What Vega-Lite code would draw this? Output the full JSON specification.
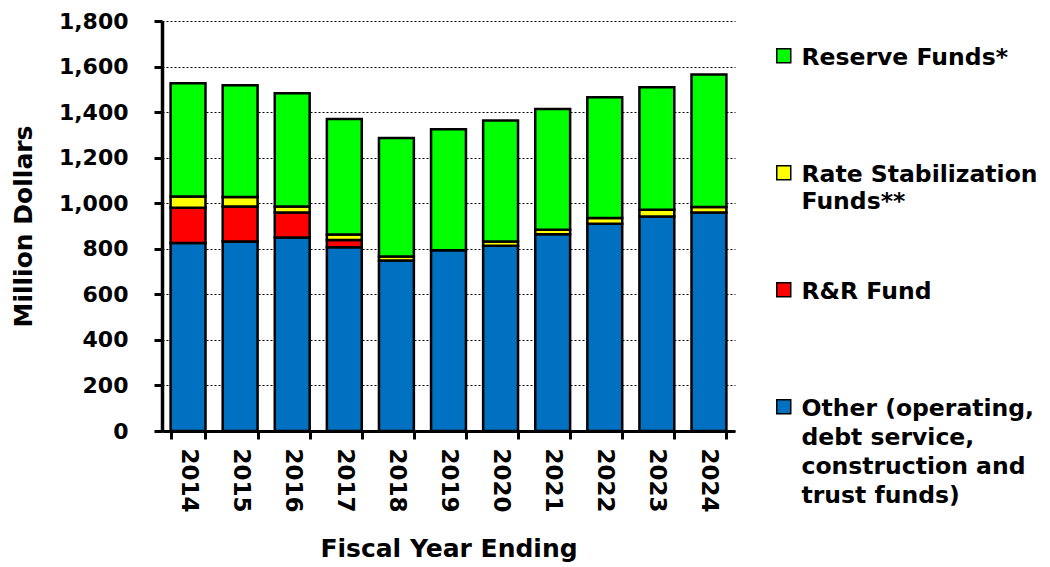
{
  "$schema": "https://vega.github.io/schema/vega-lite/v6.json",
  "autosize": "none",
  "width": 573,
  "height": 410,
  "padding": {"left": 162, "top": 21, "right": 315, "bottom": 136},
  "background": "white",
  "data": {
    "values": [
      {"year": "2014", "category": "Other", "value": 825},
      {"year": "2014", "category": "R&R", "value": 155},
      {"year": "2014", "category": "Rate", "value": 49},
      {"year": "2014", "category": "Reserve", "value": 498},
      {"year": "2015", "category": "Other", "value": 832},
      {"year": "2015", "category": "R&R", "value": 154},
      {"year": "2015", "category": "Rate", "value": 41},
      {"year": "2015", "category": "Reserve", "value": 491},
      {"year": "2016", "category": "Other", "value": 850},
      {"year": "2016", "category": "R&R", "value": 109},
      {"year": "2016", "category": "Rate", "value": 27},
      {"year": "2016", "category": "Reserve", "value": 497},
      {"year": "2017", "category": "Other", "value": 807},
      {"year": "2017", "category": "R&R", "value": 32},
      {"year": "2017", "category": "Rate", "value": 24},
      {"year": "2017", "category": "Reserve", "value": 507},
      {"year": "2018", "category": "Other", "value": 749},
      {"year": "2018", "category": "Rate", "value": 17},
      {"year": "2018", "category": "Reserve", "value": 520},
      {"year": "2019", "category": "Other", "value": 793},
      {"year": "2019", "category": "Reserve", "value": 532},
      {"year": "2020", "category": "Other", "value": 813},
      {"year": "2020", "category": "Rate", "value": 19},
      {"year": "2020", "category": "Reserve", "value": 531},
      {"year": "2021", "category": "Other", "value": 864},
      {"year": "2021", "category": "Rate", "value": 19},
      {"year": "2021", "category": "Reserve", "value": 531},
      {"year": "2022", "category": "Other", "value": 910},
      {"year": "2022", "category": "Rate", "value": 25},
      {"year": "2022", "category": "Reserve", "value": 530},
      {"year": "2023", "category": "Other", "value": 942},
      {"year": "2023", "category": "Rate", "value": 29},
      {"year": "2023", "category": "Reserve", "value": 538},
      {"year": "2024", "category": "Other", "value": 959},
      {"year": "2024", "category": "Rate", "value": 24},
      {"year": "2024", "category": "Reserve", "value": 582}
    ]
  },
  "transform": [
    {"calculate": "indexof(['Other','R&R','Rate','Reserve'], datum.category)", "as": "stackIndex"}
  ],
  "mark": {"type": "bar", "stroke": "black", "strokeWidth": 2.5},
  "encoding": {
    "x": {
      "field": "year",
      "type": "ordinal",
      "scale": {"paddingInner": 0.33, "paddingOuter": 0.165},
      "axis": {
        "title": "Fiscal Year Ending",
        "titleFont": "DejaVu Sans",
        "titleFontSize": 25,
        "titleFontWeight": "bold",
        "titleColor": "black",
        "titlePadding": 24,
        "labelAngle": 90,
        "labelFont": "DejaVu Sans",
        "labelFontSize": 23,
        "labelFontWeight": "bold",
        "labelColor": "black",
        "labelPadding": 9,
        "domainColor": "black",
        "domainWidth": 3,
        "tickColor": "black",
        "tickWidth": 3,
        "tickSize": 8,
        "tickBand": "extent"
      }
    },
    "y": {
      "field": "value",
      "type": "quantitative",
      "stack": "zero",
      "scale": {"domain": [0, 1800], "nice": false},
      "axis": {
        "title": "Million Dollars",
        "titleFont": "DejaVu Sans",
        "titleFontSize": 25,
        "titleFontWeight": "bold",
        "titleColor": "black",
        "titlePadding": 22,
        "values": [0, 200, 400, 600, 800, 1000, 1200, 1400, 1600, 1800],
        "format": ",.0f",
        "labelFont": "DejaVu Sans",
        "labelFontSize": 22,
        "labelFontWeight": "bold",
        "labelColor": "black",
        "labelPadding": 26,
        "domainColor": "black",
        "domainWidth": 3.5,
        "tickColor": "black",
        "tickWidth": 3,
        "tickSize": 8,
        "grid": true,
        "gridColor": "black",
        "gridWidth": 1,
        "gridDash": [2, 2]
      }
    },
    "color": {
      "field": "category",
      "type": "nominal",
      "scale": {
        "domain": ["Reserve", "Rate", "R&R", "Other"],
        "range": ["#00FF00", "#FFFF00", "#FF0000", "#0070C0"]
      },
      "legend": {
        "orient": "none",
        "legendX": 610,
        "legendY": 13,
        "title": null,
        "padding": 0,
        "symbolType": "M-1,0.43H1V2.43H-1Z",
        "symbolSize": 196,
        "symbolStrokeColor": "black",
        "symbolStrokeWidth": 1.5,
        "symbolOpacity": 1,
        "labelFont": "DejaVu Sans",
        "labelFontSize": 23.5,
        "labelFontWeight": "bold",
        "labelColor": "black",
        "labelBaseline": "top",
        "labelOffset": 6,
        "labelLimit": 400,
        "rowPadding": 0,
        "labelExpr": "datum.label == 'Reserve' ? ['Reserve Funds*', '', '', ''] : datum.label == 'Rate' ? ['Rate Stabilization', 'Funds**', '', ''] : datum.label == 'R&R' ? ['R&R Fund', '', '', ''] : ['Other (operating,', 'debt service,', 'construction and', 'trust funds)']",
        "encoding": {"labels": {"lineHeight": {"value": {"expr": "datum.label == 'Other' ? 29 : 27.2"}}}}
      }
    },
    "order": {"field": "stackIndex", "type": "quantitative", "sort": "ascending"}
  },
  "config": {
    "view": {"stroke": null},
    "font": "DejaVu Sans"
  }
}
